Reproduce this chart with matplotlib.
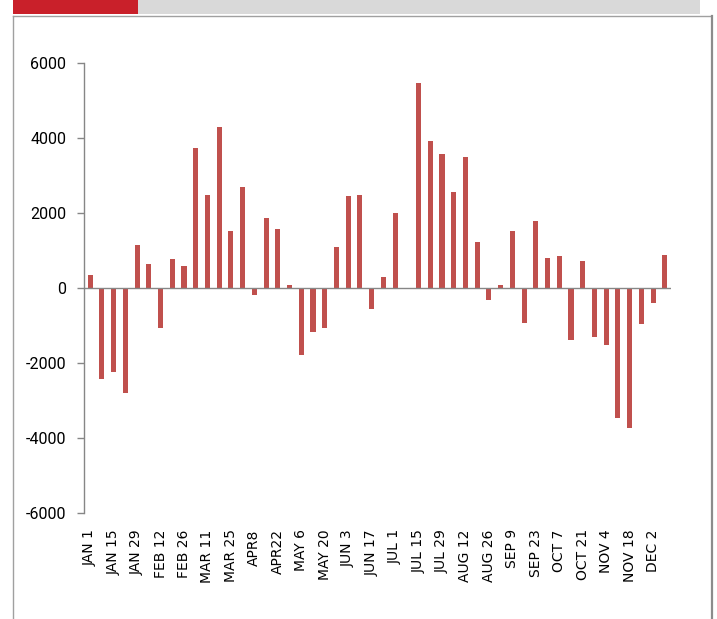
import matplotlib
matplotlib.use("Agg")
import matplotlib.pyplot as plt
from matplotlib.patches import Rectangle
from matplotlib.lines import Line2D

values = [350, -2440, -2260, -2820, 1135, 620, -1064, 753, 576, 3723,
          2482, 4290, 1525, 2695, -195, 1870, 1570, 62, -1790, -1188,
          -1064, 1090, 2438, 2482, -576, 275, 1995, -15, 5460, 3910,
          3564, 2562, 3475, 1223, -328, 62, 1525, -930, 1790, 798,
          833, -1400, 709, -1312, -1533, -3475, -3741, -975, -408, 878]
tick_labels = ["JAN 1", "JAN 15", "JAN 29", "FEB 12", "FEB 26", "MAR 11", "MAR 25",
               "APR8", "APR22", "MAY 6", "MAY 20", "JUN 3", "JUN 17", "JUL 1",
               "JUL 15", "JUL 29", "AUG 12", "AUG 26", "SEP 9", "SEP 23", "OCT 7",
               "OCT 21", "NOV 4", "NOV 18", "DEC 2"]
y_ticks = [-6000, -4000, -2000, 0, 2000, 4000, 6000]

W, H = 717, 619
fig = plt.figure(figsize=(W / 100, H / 100), dpi=100)

def fx(px):
    return px / W

def fy(py):
    return 1 - py / H

# header banner
fig.patches.append(Rectangle((fx(13), fy(14)), fx(138) - fx(13), 14 / H,
                             transform=fig.transFigure, facecolor="#C9202A", edgecolor="none"))
fig.patches.append(Rectangle((fx(138), fy(14)), fx(700) - fx(138), 14 / H,
                             transform=fig.transFigure, facecolor="#D9D9D9", edgecolor="none"))
# frame
fig.lines.append(Line2D([fx(13), fx(711)], [fy(15.5), fy(15.5)], transform=fig.transFigure,
                        color="#A0A0A0", lw=1.0))
fig.lines.append(Line2D([fx(13), fx(13)], [fy(15.5), 0], transform=fig.transFigure,
                        color="#A0A0A0", lw=1.0))
fig.lines.append(Line2D([fx(711.5), fx(711.5)], [fy(15.5), 0], transform=fig.transFigure,
                        color="#8C8C8C", lw=1.6))

left, right = 84.3, 670.7
top, bottom = 62.7, 512.7
ax = fig.add_axes([fx(left), fy(bottom), fx(right) - fx(left), (bottom - top) / H])

x = list(range(len(values)))
ax.bar(x, values, width=0.43, color="#C0504D", edgecolor="none", zorder=2)
ax.axhline(0, color="#868686", lw=1.0, zorder=3)

ax.set_xlim(-0.5, len(values) - 0.5)
ax.set_ylim(-6000, 6000)
ax.set_yticks(y_ticks)
ax.set_yticklabels([str(v) for v in y_ticks], fontsize=11.5, family=["Roboto", "DejaVu Sans"])
ax.set_xticks(x[::2])
ax.set_xticklabels(tick_labels, rotation=90, fontsize=10, family="DejaVu Sans")

for s in ["top", "right", "bottom"]:
    ax.spines[s].set_visible(False)
ax.spines["left"].set_color("#868686")
ax.spines["left"].set_linewidth(1.0)
ax.tick_params(axis="y", direction="out", length=5, width=1.0, color="#868686", pad=8)
ax.tick_params(axis="x", length=0, pad=12)
# zero line extension to the left (tick at 0 covers that)
fig.savefig("out.png", dpi=100)
